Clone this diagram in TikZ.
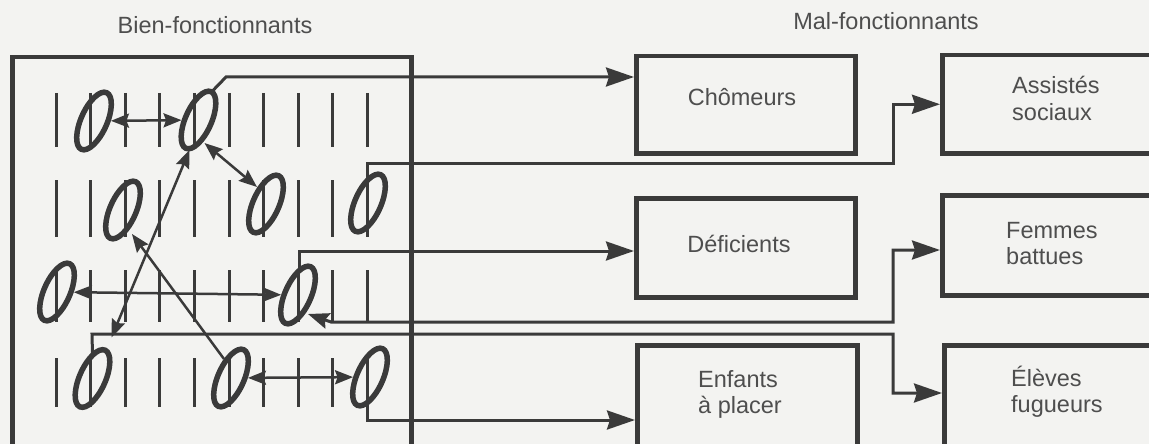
\documentclass[tikz,border=0pt]{standalone}
\usepackage{fontspec}
\setmainfont{Liberation Sans}
\usetikzlibrary{shapes.geometric,arrows.meta}
\definecolor{ink}{HTML}{3A3A3A}
\definecolor{txt}{HTML}{4E4E4E}
\definecolor{paper}{HTML}{F3F3F1}
\begin{document}
\begin{tikzpicture}[x=1pt,y=-1pt,
  lbl/.style={text=txt, font=\fontsize{23.5}{28}\selectfont, inner sep=0pt},
  boxn/.style={draw=ink, line width=4.5pt, inner sep=0pt, anchor=north west},
  oval/.style={ellipse, draw=ink, line width=5.5pt, minimum width=26pt, minimum height=62pt, inner sep=0pt, rotate=-24},
  bar/.style={draw=ink, line width=3pt},
  conn/.style={draw=ink, line width=3pt, -{Stealth[length=28pt,width=19pt,inset=3pt]}},
  connb/.style={draw=ink, line width=3pt, {Stealth[length=21pt,width=16pt,inset=3pt]}-{Stealth[length=28pt,width=19pt,inset=3pt]}},
  inner2/.style={draw=ink, line width=2.5pt, {Stealth[length=18pt,width=14pt,inset=2.5pt]}-{Stealth[length=18pt,width=14pt,inset=2.5pt]}},
  inner1/.style={draw=ink, line width=2.5pt, -{Stealth[length=18pt,width=14pt,inset=2.5pt]}}
]
\useasboundingbox (0,0) rectangle (1149,444);
\clip (0,0) rectangle (1149,444);
\fill[paper] (0,0) rectangle (1149,444);

% titles
\node[lbl, anchor=base] (tbien) at (215,34) {Bien-fonctionnants};
\node[lbl, anchor=base] (tmal) at (886,30) {Mal-fonctionnants};

% boxes
\node[boxn, minimum width=399pt, minimum height=420pt] (bien) at (10,55) {};
\node[boxn, minimum width=219pt, minimum height=97pt] (chom) at (634,54) {};
\node[boxn, minimum width=219pt, minimum height=99pt] (defi) at (634,196) {};
\node[boxn, minimum width=220pt, minimum height=120pt] (enf) at (635,343) {};
\node[boxn, minimum width=260pt, minimum height=98pt] (assi) at (940,53) {};
\node[boxn, minimum width=260pt, minimum height=100pt] (fem) at (940,193) {};
\node[boxn, minimum width=260pt, minimum height=120pt] (elev) at (942,343) {};

% box texts
\node[lbl, anchor=base] (tchom) at (742,106) {Chômeurs};
\node[lbl, anchor=base] (tdefi) at (739,252) {Déficients};
\node[lbl, anchor=base west] (tenf1) at (698,387) {Enfants};
\node[lbl, anchor=base west] (tenf2) at (698,413) {à placer};
\node[lbl, anchor=base west] (tassi1) at (1012,94) {Assistés};
\node[lbl, anchor=base west] (tassi2) at (1012,121) {sociaux};
\node[lbl, anchor=base west] (tfem1) at (1006,238) {Femmes};
\node[lbl, anchor=base west] (tfem2) at (1006,264) {battues};
\node[lbl, anchor=base west] (telev1) at (1011,386) {Élèves};
\node[lbl, anchor=base west] (telev2) at (1011,412) {fugueurs};

% grid of bars
\foreach \ya/\yb in {93/147, 180/237, 270/322, 358/407}
  \foreach \c in {0,...,9}
    \draw[bar] ({56+34.6*\c},\ya) -- ({56+34.6*\c},\yb);

% ovals
\node[oval] (o21) at (94,121) {};
\node[oval] (o51) at (198.5,120) {};
\node[oval] (o32) at (123,210) {};
\node[oval] (o72) at (266,204) {};
\node[oval] (o102) at (368,203) {};
\node[oval] (o13) at (57,292) {};
\node[oval] (o83) at (298,295) {};
\node[oval] (o24) at (92.5,378.5) {};
\node[oval] (o64) at (231,378) {};
\node[oval] (o104) at (370,377) {};

% inner arrows
\draw[inner2] (o21) -- (o51);
\draw[inner2] ([shift={(6,23)}]o51.center) -- ([shift={(-9,-17)}]o72.center);
\draw[inner2] ([shift={(19,-41)}]o24.center) -- ([shift={(-9,30)}]o51.center);
\draw[inner1] ([shift={(-7,-19)}]o64.center) -- ([shift={(9,24)}]o32.center);
\draw[inner2] (o13) -- (o83);
\draw[inner2] (o64) -- (o104);

% outgoing connectors
\coordinate (g1) at (226,77);
\draw[conn] ([shift={(13,-28)}]o51.center) -- (g1) -- (g1 -| chom.west);

\coordinate (h1) at (367,163);
\coordinate (h2) at (893,163);
\draw[conn] ([shift={(-1,-24)}]o102.center) -- (h1) -- (h2) -- (h2 |- assi.west) -- (assi.west);

\coordinate (i1) at (299,251);
\draw[conn] ([shift={(1,-25)}]o83.center) -- (i1) -- (i1 -| defi.west);

\coordinate (j1) at (331,322);
\coordinate (j2) at (893,322);
\coordinate (j3) at (893,250);
\draw[connb] ([shift={(10,19)}]o83.center) -- (j1) -- (j2) -- (j3) -- (j3 -| fem.west);

\coordinate (k1) at (92,334);
\coordinate (k2) at (893,334);
\coordinate (k3) at (893,393);
\draw[conn] ([shift={(0,-24)}]o24.center) -- (k1) -- (k2) -- (k3) -- (k3 -| elev.west);

\coordinate (l1) at (367,420);
\draw[conn] ([shift={(-3,26)}]o104.center) -- (l1) -- (l1 -| enf.west);
\end{tikzpicture}
\end{document}
